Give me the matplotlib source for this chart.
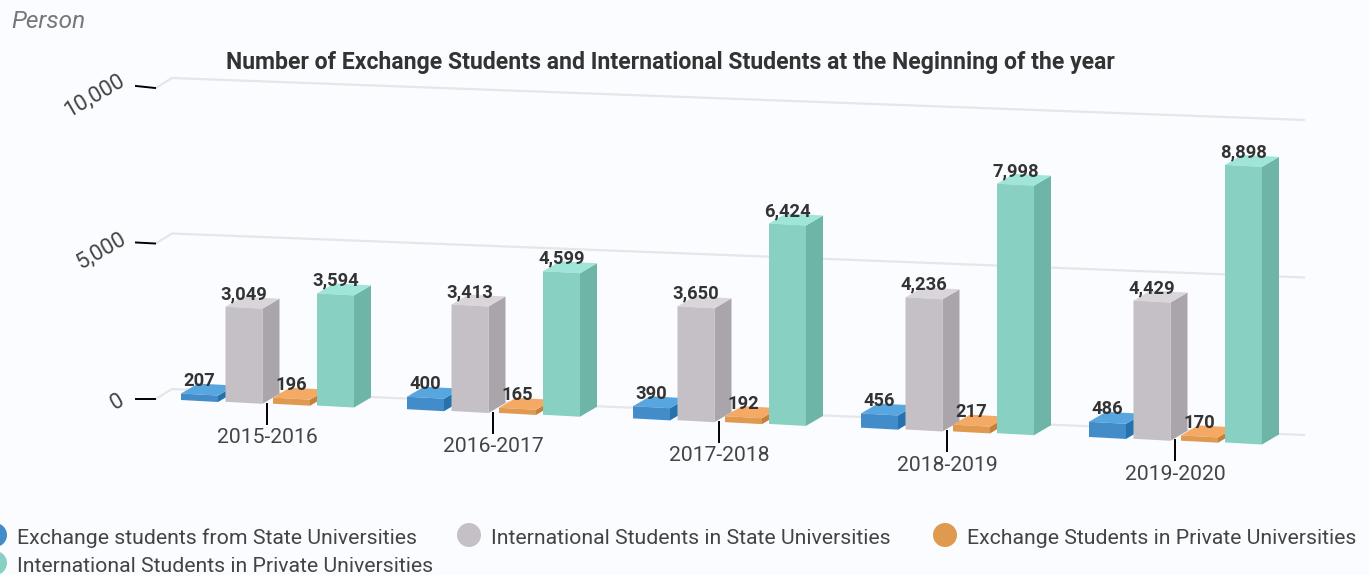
import matplotlib
matplotlib.use('Agg')
import matplotlib.pyplot as plt
from matplotlib.patches import Polygon, Circle
###############################################################################
plt.rcParams['font.family'] = ['Roboto', 'DejaVu Sans']

YEARS = ['2015-2016', '2016-2017', '2017-2018', '2018-2019', '2019-2020']
EXCHANGE_STATE = [207, 400, 390, 456, 486]
INTER_STATE = [3049, 3413, 3650, 4236, 4429]
EXCHANGE_PRIVATE = [196, 165, 192, 217, 170]
INTER_PRIVATE = [3594, 4599, 6424, 7998, 8898]
YTICKS = [0, 5000, 10000]

NAMES = ['Exchange students from State Universities',
         'International Students in State Universities',
         'Exchange Students in Private Universities',
         'International Students in Private Universities']
SERIES = [EXCHANGE_STATE, INTER_STATE, EXCHANGE_PRIVATE, INTER_PRIVATE]
# front, top, side
COLORS = [('#428cc9', '#58a6e0', '#2672ac'),
          ('#c4c0c5', '#d9d5da', '#a9a5aa'),
          ('#e09a50', '#f4a964', '#c6803a'),
          ('#88d0c2', '#a0e6d8', '#6eb5a8')]
BG = '#fbfcff'
###############################################################################
# pixel projection of the 3d chart
PX_PER_UNIT = 0.0312
CAT_X = [181, 407, 633, 861, 1089]
SER_OFFSET = [0, 44.5, 92, 136]
BAR_W = 37.0
DEPTH_X, DEPTH_Y = 17.0, -10.0
SLOPE = 0.0407


def front_base(cat, ser):
    x = CAT_X[cat] + SER_OFFSET[ser]
    return x, 400 + SLOPE * (x - 181)


def grid_y(x, val):
    left = 389 - 0.0311 * val
    right = 435 - 0.0315 * val
    return left + (right - left) * (x - 172) / (1305 - 172)


fig = plt.figure(figsize=(13.69, 5.75), dpi=100, facecolor=BG)
ax = fig.add_axes([0, 0, 1, 1])
ax.set_xlim(0, 1369)
ax.set_ylim(575, 0)
ax.axis('off')

# grid and y axis
YLABEL_POS = {0: (117, 402), 5000: (101, 251), 10000: (94, 96)}
for val in YTICKS:
    y_left = grid_y(172, val)
    ax.plot([155, 172, 1305],
            [y_left + 10.5, y_left, grid_y(1305, val)],
            color='#e6e6e6', lw=1.6, solid_capstyle='butt', zorder=1)
    tilt = 2.0 * val / 10000
    ax.plot([136, 155], [y_left + 10 - tilt, y_left + 10], color='black', lw=1.4, zorder=2)
    ax.text(*YLABEL_POS[val], format(val, ','), rotation=30, ha='center', va='center',
            fontsize=15.8, color='#444444', zorder=2)

# columns
for ser, values in enumerate(SERIES):
    front, top, side = COLORS[ser]
    for cat, val in enumerate(values):
        x, y = front_base(cat, ser)
        h = val * PX_PER_UNIT
        xr = x + BAR_W
        yr = y + 2
        ax.add_patch(Polygon([(xr, yr), (xr + DEPTH_X, yr + DEPTH_Y),
                              (xr + DEPTH_X, yr + DEPTH_Y - h), (xr, yr - h)],
                             fc=side, ec='none', zorder=3))
        ax.add_patch(Polygon([(x, y - h), (xr, yr - h), (xr + DEPTH_X, yr + DEPTH_Y - h),
                              (x + DEPTH_X, y + DEPTH_Y - h)],
                             fc=top, ec='none', zorder=3))
        ax.add_patch(Polygon([(x, y), (xr, yr), (xr, yr - h), (x, y - h)],
                             fc=front, ec='none', zorder=3))

for ser, values in enumerate(SERIES):
    for cat, val in enumerate(values):
        x, y = front_base(cat, ser)
        ax.text(x + BAR_W / 2, y - val * PX_PER_UNIT - 12.5, format(val, ','), ha='center', va='center',
                fontsize=13.2, fontweight='bold', color='#333333', zorder=5)

# x axis
for cat, year in enumerate(YEARS):
    x = CAT_X[cat] + 86
    y = 403.5 + SLOPE * (x - 267)
    ax.plot([x, x], [y, y + 20], color='black', lw=1.4, zorder=2)
    ax.text(x, y + 34, year, ha='center', va='center', fontsize=15.2, color='#444444', zorder=5)

ax.text(670, 63, 'Number of Exchange Students and International Students at the Neginning of the year',
        ha='center', va='center', fontsize=16.6, fontweight='bold', color='#333333')
ax.text(11, 22, 'Person', ha='left', va='center', fontsize=17.6, style='italic', color='#777777')

# legend
LEGEND_POS = [(-5, 535, 17), (469, 535, 491), (945, 535, 967), (-5, 563, 17)]
for name, colors, (cx, cy, tx) in zip(NAMES, COLORS, LEGEND_POS):
    ax.add_patch(Circle((cx, cy), 12, fc=colors[0], ec='none'))
    ax.text(tx, cy + 3, name, ha='left', va='center', fontsize=15.3, color='#444444')

fig.savefig('out.png', dpi=100, facecolor=BG)
print('finished')
